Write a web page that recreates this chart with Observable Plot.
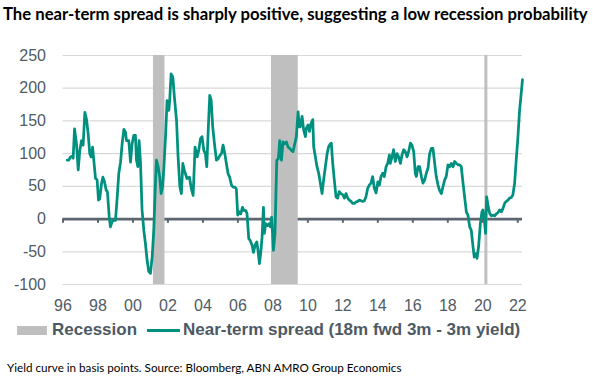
<!DOCTYPE html>
<html><head><meta charset="utf-8">
<script src="https://cdn.jsdelivr.net/npm/d3@7"></script>
<script src="https://cdn.jsdelivr.net/npm/@observablehq/plot@0.6"></script>
<style>
html,body{margin:0;padding:0;background:#fff}
body{width:593px;height:382px;position:relative;overflow:hidden}
.t{position:absolute;white-space:nowrap;line-height:20px}
#title{left:3px;top:4px;font-family:Lato,"Noto Sans",sans-serif;font-weight:bold;font-size:15px;color:#000}
#caption{left:7px;top:357px;font-family:Lato,"Noto Sans",sans-serif;font-size:12px;color:#000}
#chart{position:absolute;left:0;top:30px}
.leg{font-family:"Liberation Sans",Arial,sans-serif;font-weight:bold;font-size:17px;color:#4d5963;top:320px}
.sw{position:absolute}
</style>
</head><body>
<div id="title" class="t">The near-term spread is sharply positive, suggesting a low recession probability</div>
<div id="chart"></div>
<div class="sw" style="left:17px;top:326px;width:30px;height:9px;background:#bfbfbf"></div>
<div class="t leg" style="left:52px">Recession</div>
<div class="sw" style="left:147px;top:329px;width:33px;height:3px;background:#00907f"></div>
<div class="t leg" style="left:183px">Near-term spread (18m fwd 3m - 3m yield)</div>
<div id="caption" class="t">Yield curve in basis points. Source: Bloomberg, ABN AMRO Group Economics</div>
<script>
// Decimal year of each observation
const years = [
1996.24,1996.33,1996.43,1996.52,1996.58,1996.66,1996.77,1996.87,1996.96,1997.06,1997.15,1997.25,1997.34,1997.44,1997.53,1997.61,1997.69,1997.76,1997.86,1997.95,
1998.03,1998.10,1998.20,1998.28,1998.37,1998.47,1998.54,1998.64,1998.71,1998.81,1998.90,1999.00,1999.10,1999.19,1999.29,1999.38,1999.48,1999.57,1999.63,1999.76,
1999.86,1999.95,2000.05,2000.14,2000.20,2000.28,2000.35,2000.43,2000.52,2000.62,2000.71,2000.81,2000.90,2001.00,2001.10,2001.19,2001.27,2001.34,2001.44,2001.53,
2001.61,2001.69,2001.76,2001.86,2001.95,2002.05,2002.10,2002.18,2002.28,2002.37,2002.49,2002.58,2002.68,2002.77,2002.85,2002.94,2003.09,2003.23,2003.34,2003.44,
2003.55,2003.67,2003.76,2003.86,2003.95,2004.05,2004.14,2004.22,2004.31,2004.39,2004.47,2004.56,2004.66,2004.77,2004.87,2004.96,2005.06,2005.15,2005.25,2005.34,
2005.44,2005.53,2005.63,2005.72,2005.82,2005.91,2005.99,2006.07,2006.16,2006.26,2006.35,2006.45,2006.52,2006.62,2006.71,2006.81,2006.89,2006.98,2007.08,2007.15,
2007.23,2007.30,2007.38,2007.46,2007.51,2007.59,2007.69,2007.78,2007.86,2007.93,2008.03,2008.12,2008.22,2008.31,2008.39,2008.49,2008.58,2008.68,2008.77,2008.87,
2008.96,2009.06,2009.15,2009.25,2009.34,2009.44,2009.51,2009.57,2009.67,2009.76,2009.86,2009.91,2010.01,2010.09,2010.18,2010.28,2010.33,2010.43,2010.52,2010.62,
2010.71,2010.81,2010.90,2011.00,2011.10,2011.19,2011.29,2011.34,2011.42,2011.51,2011.61,2011.70,2011.79,2011.89,2012.00,2012.09,2012.18,2012.28,2012.37,2012.47,
2012.56,2012.66,2012.75,2012.85,2012.94,2013.04,2013.13,2013.23,2013.32,2013.42,2013.51,2013.61,2013.70,2013.80,2013.90,2014.00,2014.09,2014.18,2014.28,2014.37,
2014.47,2014.56,2014.66,2014.71,2014.81,2014.90,2015.00,2015.10,2015.19,2015.29,2015.38,2015.48,2015.57,2015.67,2015.76,2015.86,2015.95,2016.05,2016.14,2016.20,
2016.30,2016.39,2016.49,2016.58,2016.68,2016.77,2016.87,2016.96,2017.06,2017.15,2017.25,2017.34,2017.44,2017.53,2017.63,2017.72,2017.82,2017.91,2018.01,2018.11,
2018.20,2018.30,2018.39,2018.49,2018.58,2018.68,2018.77,2018.87,2018.96,2019.06,2019.15,2019.25,2019.34,2019.44,2019.51,2019.59,2019.67,2019.76,2019.86,2019.95,
2020.01,2020.09,2020.16,2020.22,2020.31,2020.39,2020.49,2020.58,2020.68,2020.77,2020.87,2020.96,2021.06,2021.15,2021.25,2021.34,2021.44,2021.53,2021.63,2021.72,
2021.82,2021.91,2022.00,2022.10,2022.27
];
// Near-term spread, basis points
const spread = [
90,90,95,96,93,138,115,75,105,120,113,163,153,130,100,95,110,90,62,60,
29,31,54,64,57,44,42,4,-12,-4,-2,-2,34,70,87,115,137,133,120,120,
87,115,128,128,90,80,120,87,14,-17,-37,-63,-80,-83,-57,-17,44,90,80,64,
39,49,75,125,181,166,181,222,217,186,151,95,49,39,85,74,62,64,46,36,
110,95,105,123,126,105,100,80,141,189,182,141,115,90,92,97,100,113,100,85,
69,64,52,49,49,46,6,11,8,18,13,13,8,-30,-33,-40,-51,-40,-35,-48,
-68,-53,-28,18,-22,-7,-10,-7,-12,3,-48,-22,90,92,120,90,118,115,118,110,
108,105,103,115,126,164,141,141,157,136,126,139,144,134,146,152,111,95,80,70,
55,39,60,80,100,111,115,116,85,60,34,32,42,39,37,32,39,32,29,27,
24,24,26,27,29,28,27,28,34,47,52,55,65,47,40,57,52,65,70,65,
80,85,98,85,95,106,88,100,95,85,98,106,103,95,103,116,113,103,70,65,
80,80,65,55,60,70,78,100,108,108,85,65,52,44,39,49,60,65,83,80,
85,80,88,85,83,83,80,55,34,11,6,-12,-17,-42,-58,-53,-60,-42,-7,11,
14,-2,-22,34,19,9,5,6,5,8,10,14,11,16,24,27,29,32,33,37,
55,90,122,165,213
];
// US recessions (decimal years)
const recessionStart = [2001.17, 2007.92, 2020.12];
const recessionEnd   = [2001.83, 2009.45, 2020.29];
const xTicks = [1996,1998,2000,2002,2004,2006,2008,2010,2012,2014,2016,2018,2020,2022];
const yTicks = [-100,-50,0,50,100,150,200,250];

const series = years.map((y, i) => ({year: y, value: spread[i]}));
const recessions = recessionStart.map((s, i) => ({start: s, end: recessionEnd[i]}));
const axisColor = "#5b6670";

const chart = Plot.plot({
  width: 593,
  height: 290,
  marginTop: 25,
  marginBottom: 36,
  marginLeft: 62.5,
  marginRight: 71,
  x: {domain: [1996, 2022.27], label: null},
  y: {domain: [-100, 250], label: null},
  style: {fontFamily: "'Liberation Sans', Arial, sans-serif", fontSize: "16px", color: "#505b65", background: "#fff"},
  marks: [
    Plot.ruleY(yTicks.filter(d => d !== 0), {stroke: "#d9d9d9", strokeWidth: 1.2}),
    Plot.ruleY([0], {stroke: axisColor, strokeWidth: 2.75}),
    Plot.ruleX(xTicks, {x: d => d, y1: 0, y2: -6.5, stroke: axisColor, strokeWidth: 2}),
    Plot.rect(recessions, {x1: "start", x2: "end", fill: "#bfbfbf"}),
    Plot.line(series, {x: "year", y: "value", stroke: "#00907f", strokeWidth: 2.75, strokeLinejoin: "round"}),
    Plot.axisY({ticks: yTicks, tickSize: 0, tickPadding: 17, label: null, tickFormat: d => String(d)}),
    Plot.axisX({ticks: xTicks, tickSize: 0, tickPadding: 15, label: null, tickFormat: d => String(d % 100).padStart(2, "0")})
  ]
});
document.getElementById("chart").appendChild(chart);

function fit(id, target) {
  const el = document.getElementById(id);
  const fs = parseFloat(getComputedStyle(el).fontSize);
  const w = el.getBoundingClientRect().width;
  el.style.fontSize = (fs * target / w) + "px";
}
fit("title", 585);
fit("caption", 395);
</script>
</body></html>
